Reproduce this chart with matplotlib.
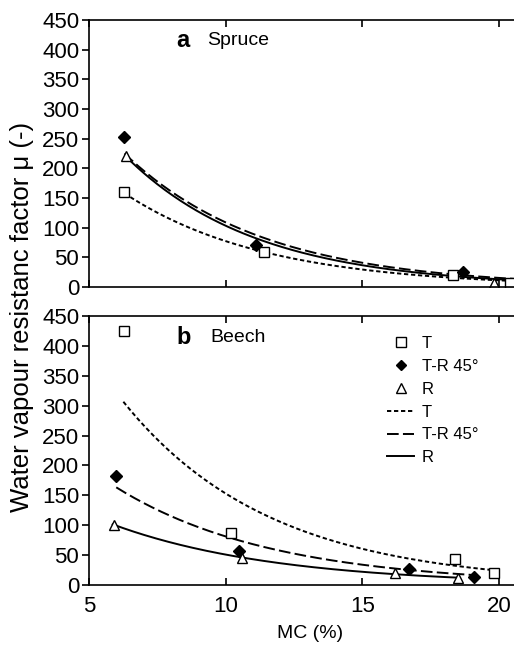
import numpy as np
import matplotlib
matplotlib.use('Agg')
import matplotlib.pyplot as plt
from matplotlib.lines import Line2D

plt.rcParams['font.family'] = ['Liberation Sans', 'DejaVu Sans']

######  Data ##############################
# Spruce (panel a)
sp_T_mc = [6.3, 11.4, 18.3, 20.4]
sp_T_mu = [160, 59, 20, 7]
sp_TR_mc = [6.3, 11.1, 18.7]
sp_TR_mu = [253, 71, 25]
sp_R_mc = [6.35, 19.8]
sp_R_mu = [221, 6]

# Beech (panel b)
be_T_mc = [6.3, 10.2, 18.4, 19.8]
be_T_mu = [425, 87, 43, 20]
be_TR_mc = [6.0, 10.5, 16.7, 19.1]
be_TR_mu = [183, 57, 27, 14]
be_R_mc = [5.9, 10.6, 16.2, 18.5]
be_R_mu = [100, 45, 20, 11]

# exponential fits mu = a*exp(-b*(MC - x0)), drawn from x0 to x1
sp_fit_T = (158, 0.193, 6.3, 20.6)
sp_fit_TR = (225, 0.196, 6.3, 20.6)
sp_fit_R = (220, 0.207, 6.35, 20.6)
be_fit_T = (306.6, 0.1856, 6.26, 19.8)
be_fit_TR = (163.4, 0.1745, 6.0, 19.1)
be_fit_R = (101.5, 0.167, 5.87, 18.5)
##########################################

dot_style = (0, (2.2, 1.4))
dash_style = (0, (6, 2.2))

fig = plt.figure(figsize=(5.14, 6.46), dpi=100)
ax_a = fig.add_axes([0.173, 0.5557, 0.86, 0.4133])
ax_b = fig.add_axes([0.173, 0.0944, 0.86, 0.4164])


def fit_curve(ax, fit, ls):
    a, b, x0, x1 = fit
    x = np.linspace(x0, x1, 200)
    ax.plot(x, a * np.exp(-b * (x - x0)), color='black', linestyle=ls, lw=1.4)


def draw_panel(ax, T, TR, R, fits):
    fit_curve(ax, fits[0], dot_style)
    fit_curve(ax, fits[1], dash_style)
    fit_curve(ax, fits[2], '-')
    ax.plot(T[0], T[1], 's', mfc='white', mec='black', ms=7.5, mew=1.0, ls='none')
    ax.plot(TR[0], TR[1], 'D', color='black', ms=6, ls='none')
    ax.plot(R[0], R[1], '^', mfc='white', mec='black', ms=7.5, mew=1.0, ls='none')
    ax.set_xlim(5, 21.17)
    ax.set_ylim(0, 450)
    ax.set_yticks(np.arange(0, 451, 50))
    ax.set_xticks([5, 10, 15, 20])
    ax.spines['right'].set_visible(False)
    for s in ['left', 'bottom', 'top']:
        ax.spines[s].set_linewidth(1.2)
    ax.tick_params(axis='x', direction='in', top=True, length=5, width=1.2, labelsize=16, pad=8)
    ax.tick_params(axis='y', direction='out', length=5, width=1.2, labelsize=16, pad=2)


draw_panel(ax_a, (sp_T_mc, sp_T_mu), (sp_TR_mc, sp_TR_mu), (sp_R_mc, sp_R_mu),
           (sp_fit_T, sp_fit_TR, sp_fit_R))
draw_panel(ax_b, (be_T_mc, be_T_mu), (be_TR_mc, be_TR_mu), (be_R_mc, be_R_mu),
           (be_fit_T, be_fit_TR, be_fit_R))
ax_a.set_xticklabels([])

ax_a.text(0.198, 0.925, 'a', transform=ax_a.transAxes, fontsize=17, fontweight='bold', va='center')
ax_a.text(0.267, 0.925, 'Spruce', transform=ax_a.transAxes, fontsize=14, va='center')
ax_b.text(0.197, 0.922, 'b', transform=ax_b.transAxes, fontsize=17, fontweight='bold', va='center')
ax_b.text(0.274, 0.922, 'Beech', transform=ax_b.transAxes, fontsize=14, va='center')

ax_b.set_xlabel('MC (%)', fontsize=14, labelpad=6)
fig.text(0.043, 0.51, 'Water vapour resistanc factor \u03bc (-)', rotation=90,
         fontsize=18.5, va='center', ha='center')

handles = [
    Line2D([], [], marker='s', mfc='white', mec='black', ms=6.5, ls='none'),
    Line2D([], [], marker='D', color='black', ms=5.5, ls='none'),
    Line2D([], [], marker='^', mfc='white', mec='black', ms=6.5, ls='none'),
    Line2D([], [], color='black', ls=dot_style, lw=1.4),
    Line2D([], [], color='black', ls=dash_style, lw=1.4),
    Line2D([], [], color='black', ls='-', lw=1.4),
]
labels = ['T', 'T-R 45\u00b0', 'R', 'T', 'T-R 45\u00b0', 'R']
ax_b.legend(handles, labels, loc='upper left', bbox_to_anchor=(0.66, 0.95), frameon=False,
            fontsize=12, handlelength=1.6, handletextpad=0.45, labelspacing=0.47,
            borderaxespad=0)

fig.savefig('out.png', dpi=100)
